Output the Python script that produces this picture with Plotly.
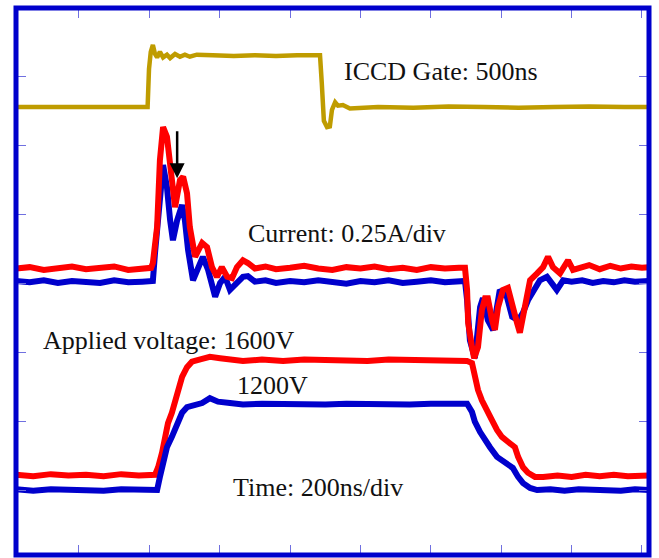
import plotly.graph_objects as go

# Time axis in ns (200 ns/div), vertical axis in screen divisions
time_ticks = [0, 200, 400, 600, 800, 1000, 1200, 1400, 1600]
div_ticks = [0, 1, 2, 3, 4, 5, 6]

# ICCD gate (500 ns)
t_gate = [-179, -100, 0, 100, 195,
          199, 204, 210, 216, 222, 230, 239, 250, 259, 273, 287, 301, 315, 335,
          380, 440, 500, 560, 620, 685,
          690, 696, 705, 713, 719, 728, 736, 750, 770,
          850, 950, 1050, 1150, 1250, 1350, 1450, 1550, 1620]
v_gate = [5.55, 5.55, 5.55, 5.55, 5.55,
          6.10, 6.35, 6.45, 6.32, 6.27, 6.35, 6.27, 6.31, 6.26, 6.32, 6.28, 6.31, 6.28, 6.31,
          6.30, 6.29, 6.30, 6.29, 6.30, 6.30,
          5.90, 5.35, 5.26, 5.27, 5.51, 5.62, 5.57, 5.58, 5.53,
          5.55, 5.54, 5.56, 5.55, 5.54, 5.55, 5.56, 5.55, 5.55]

# Current at 1600 V (red)
t_cur_1600 = [-179, -140, -100, -60, -20, 20, 60, 100, 140, 180, 205,
              210, 222, 230, 239, 250, 259, 273, 287, 296, 307, 315, 330, 338, 350, 364, 378, 392, 406, 421, 435, 449, 466, 480,
              500, 530, 560, 600, 640, 680, 720, 760, 800, 840, 880, 920, 960, 1000, 1040, 1080,
              1097, 1103, 1106, 1117, 1123, 1134, 1145, 1154, 1162, 1174, 1182, 1191, 1205, 1219, 1231, 1245, 1253, 1262, 1273, 1282, 1302, 1319, 1333, 1347, 1367, 1390, 1404, 1424,
              1450, 1480, 1510, 1540, 1570, 1600, 1620]
v_cur_1600 = [3.21, 3.23, 3.19, 3.22, 3.24, 3.20, 3.21, 3.24, 3.19, 3.22, 3.22,
              3.29, 3.81, 4.78, 5.26, 5.12, 4.64, 4.10, 4.49, 4.54, 4.30, 3.81, 3.38, 3.48, 3.58, 3.52, 3.23, 3.09, 3.23, 3.09, 3.07, 3.23, 3.33, 3.29,
              3.21, 3.24, 3.20, 3.22, 3.25, 3.21, 3.19, 3.23, 3.21, 3.24, 3.20, 3.22, 3.19, 3.23, 3.21, 3.22,
              3.22, 2.90, 2.42, 2.07, 1.91, 2.07, 2.61, 2.78, 2.78, 2.46, 2.32, 2.65, 2.90, 2.93, 2.65, 2.42, 2.28, 2.51, 2.86, 3.04, 3.14, 3.23, 3.38, 3.23, 3.14, 3.33, 3.19, 3.23,
              3.26, 3.20, 3.25, 3.21, 3.24, 3.22, 3.23]

# Current at 1200 V (blue)
t_cur_1200 = [-179, -140, -100, -60, -20, 20, 60, 100, 140, 180, 210,
              216, 225, 236, 239, 250, 259, 267, 279, 293, 301, 310, 324, 338, 352, 367, 387, 401, 415, 429, 449, 466, 480,
              500, 530, 560, 600, 640, 680, 720, 760, 800, 840, 880, 920, 960, 1000, 1040, 1080,
              1097, 1103, 1111, 1125, 1140, 1148, 1162, 1177, 1196, 1216, 1231, 1248, 1262, 1276, 1296, 1310, 1330, 1358, 1376,
              1400, 1430, 1460, 1490, 1520, 1550, 1580, 1620]
v_cur_1200 = [3.03, 3.01, 3.04, 3.00, 3.03, 3.02, 3.00, 3.04, 3.01, 3.02, 3.03,
              3.43, 4.06, 4.54, 4.71, 4.39, 3.91, 3.62, 3.91, 4.13, 3.91, 3.48, 3.04, 3.23, 3.38, 3.19, 2.80, 3.00, 3.09, 2.90, 3.00, 3.09, 3.10,
              3.02, 3.04, 3.00, 3.03, 3.01, 3.04, 3.02, 2.99, 3.03, 3.01, 3.04, 3.00, 3.02, 3.04, 3.01, 3.03,
              3.03, 2.75, 2.17, 1.91, 2.65, 2.78, 2.46, 2.32, 2.90, 2.80, 2.51, 2.46, 2.57, 2.75, 2.94, 3.04, 3.09, 2.90, 3.04,
              3.02, 3.04, 3.00, 3.03, 3.01, 3.04, 3.02, 3.03]

# Applied voltage 1600 V (red)
t_volt_1600 = [-179, -130, -80, -30, 20, 70, 120, 170, 216,
               225, 236, 244, 253, 264, 279, 293, 307, 321, 350, 372, 401, 438, 466,
               520, 580, 640, 700, 760, 820, 880, 940, 1000, 1060, 1103,
               1117, 1125, 1134, 1145, 1160, 1174, 1188, 1202, 1219, 1239, 1248, 1262, 1276, 1296, 1319,
               1360, 1400, 1440, 1480, 1520, 1560, 1620]
v_volt_1600 = [0.22, 0.20, 0.23, 0.21, 0.22, 0.20, 0.23, 0.21, 0.22,
               0.33, 0.54, 0.77, 0.97, 1.12, 1.41, 1.64, 1.78, 1.86, 1.90, 1.93, 1.91, 1.88, 1.87,
               1.89, 1.87, 1.89, 1.88, 1.89, 1.87, 1.89, 1.88, 1.88, 1.87, 1.87,
               1.84, 1.64, 1.45, 1.30, 1.13, 1.01, 0.87, 0.77, 0.70, 0.62, 0.48, 0.33, 0.25, 0.19, 0.19,
               0.21, 0.19, 0.22, 0.20, 0.22, 0.20, 0.21]

# Applied voltage 1200 V (blue)
t_volt_1200 = [-179, -130, -80, -30, 20, 70, 120, 170, 222,
               230, 239, 250, 264, 279, 293, 307, 324, 350, 372, 395, 429, 466,
               520, 580, 640, 700, 760, 820, 880, 940, 1000, 1060, 1103,
               1117, 1125, 1140, 1154, 1168, 1188, 1211, 1233, 1248, 1262, 1282, 1302,
               1340, 1380, 1420, 1460, 1500, 1540, 1580, 1620]
v_volt_1200 = [0.01, -0.01, 0.01, 0.00, 0.01, -0.01, 0.01, 0.00, 0.00,
               0.19, 0.43, 0.62, 0.77, 0.97, 1.12, 1.20, 1.23, 1.26, 1.33, 1.28, 1.26, 1.24,
               1.25, 1.24, 1.25, 1.24, 1.25, 1.24, 1.25, 1.24, 1.25, 1.24, 1.25,
               1.13, 0.99, 0.84, 0.72, 0.62, 0.48, 0.39, 0.32, 0.19, 0.10, 0.03, 0.00,
               0.01, -0.01, 0.01, 0.00, 0.01, -0.01, 0.01, 0.00]

RED = "#FF0000"
BLUE = "#0000CC"
GOLD = "#BF9C00"
SERIF = "Liberation Serif, Times New Roman, serif"

fig = go.Figure()
fig.add_trace(go.Scatter(x=t_gate, y=v_gate, mode="lines", line=dict(color=GOLD, width=4.5)))
fig.add_trace(go.Scatter(x=t_cur_1200, y=v_cur_1200, mode="lines", line=dict(color=BLUE, width=6)))
fig.add_trace(go.Scatter(x=t_cur_1600, y=v_cur_1600, mode="lines", line=dict(color=RED, width=6)))
fig.add_trace(go.Scatter(x=t_volt_1600, y=v_volt_1600, mode="lines", line=dict(color=RED, width=6)))
fig.add_trace(go.Scatter(x=t_volt_1200, y=v_volt_1200, mode="lines", line=dict(color=BLUE, width=6)))

labels = [
    ("ICCD Gate: 500ns", 1030, 6.07),
    ("Current: 0.25A/div", 763, 3.72),
    ("Applied voltage: 1600V", 257, 2.16),
    ("1200V", 551, 1.52),
    ("Time: 200ns/div", 679, 0.04),
]
for txt, x, y in labels:
    fig.add_annotation(x=x, y=y, text=txt, showarrow=False, xanchor="center", yanchor="middle",
                       font=dict(family=SERIF, size=26, color="#111111"))

# arrow marking the second current peak
fig.add_annotation(x=279, y=4.52, ax=279, ay=5.22, axref="x", ayref="y", xref="x", yref="y",
                   text="", showarrow=True, arrowhead=2, arrowsize=1.2, arrowwidth=2.5, arrowcolor="#000000")

fig.add_shape(type="rect", xref="paper", yref="paper", x0=0, y0=0, x1=1, y1=1,
              line=dict(color=BLUE, width=5), layer="above")

axis_common = dict(showgrid=False, zeroline=False, showticklabels=False, ticks="inside",
                   ticklen=10, tickwidth=1, tickcolor="#7070E0", showline=False, mirror="ticks")
fig.update_xaxes(range=[-179, 1620], tickvals=time_ticks, **axis_common)
fig.update_yaxes(range=[-0.942, 6.986], tickvals=div_ticks, **axis_common)

fig.update_layout(width=659, height=558, margin=dict(l=16, r=10, t=8, b=3),
                  paper_bgcolor="white", plot_bgcolor="white", showlegend=False)

fig.write_html("out.html", config={"displayModeBar": False},
               post_script="document.body.style.margin='0';")
